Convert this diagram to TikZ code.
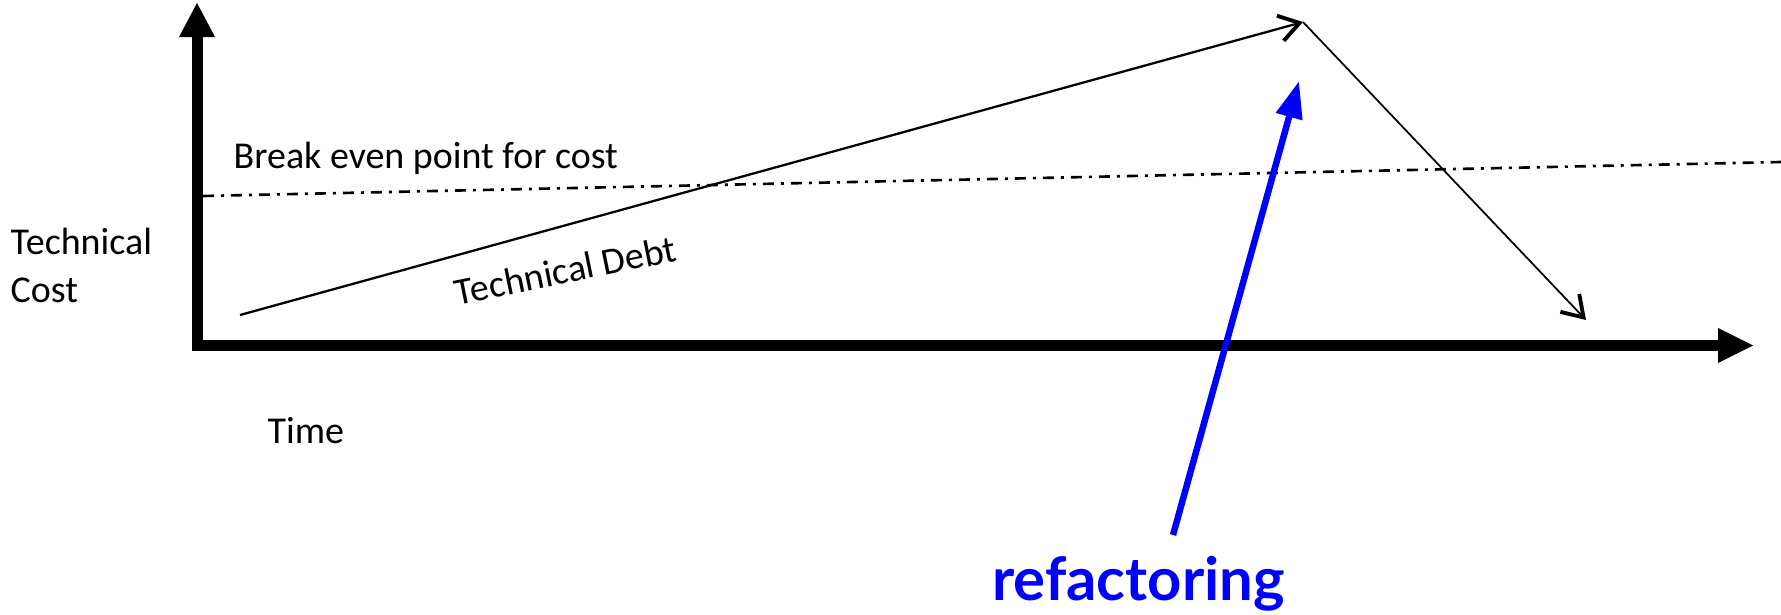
\documentclass[tikz,border=0pt]{standalone}
\usepackage{fontspec}
\setmainfont{Carlito}
\newfontfamily\latofont{Lato}
\usepackage{xcolor}
\usetikzlibrary{arrows.meta,positioning,calc}

\begin{document}
\begin{tikzpicture}[x=1cm,y=1cm,
  lbl/.style={font=\fontsize{10.8}{13.4}\selectfont,inner sep=0pt},
  axisline/.style={line width=0.11cm,line join=miter},
  debtline/.style={line width=0.65pt,
    -{Straight Barb[length=0.2cm,width=0.26cm,line width=1.1pt]}},
  breakline/.style={line width=0.75pt,
    dash pattern=on 0.11cm off 0.07cm on 0.03cm off 0.07cm},
  refline/.style={blue,line width=0.065cm,
    -{Triangle[length=0.37cm,width=0.26cm]}}]
  \useasboundingbox (0,0) rectangle (17.81,6.14);
  % axes
  \coordinate (ytip) at (1.97,6.11);
  \coordinate (orig) at (1.97,2.685);
  \coordinate (xtip) at (17.53,2.685);
  \draw[axisline,{Triangle[length=0.34cm,width=0.36cm,line width=0pt]}-{Triangle[length=0.35cm,width=0.35cm,line width=0pt]}]
    (ytip) -- (orig) -- (xtip);
  \node[lbl,align=left,anchor=base west] (ylab) at (0.10,3.12) {Technical\\Cost};
  \node[lbl,anchor=base west] (xlab) at (2.67,1.71) {Time};

  % break even level
  \coordinate (be0) at (2.03,4.18);
  \coordinate (be1) at (17.81,4.52);
  \draw[breakline] (be0) -- (be1);
  \node[lbl,anchor=base west] (belab) at (2.33,4.46) {Break even point for cost};

  % debt grows, then drops
  \coordinate (start) at (2.40,2.99);
  \coordinate (peak) at (13.03,5.92);
  \coordinate (drop) at (15.86,2.94);
  \draw[debtline] (start) -- (peak);
  \draw[debtline,line width=0.5pt] (peak) -- (drop);
  \node[lbl,rotate=11.5,anchor=base] (debtlab) at (5.68,3.31) {Technical Debt};

  % refactoring marker
  \node[font=\latofont\bfseries\fontsize{17}{20}\selectfont,text=blue,
        inner sep=0pt,anchor=base] (refac) at (11.385,0.14) {refactoring};
  \coordinate (reftail) at (11.73,0.79);
  \coordinate (refhead) at (12.99,5.33);
  \draw[refline] (reftail) -- (refhead);
\end{tikzpicture}
\end{document}
